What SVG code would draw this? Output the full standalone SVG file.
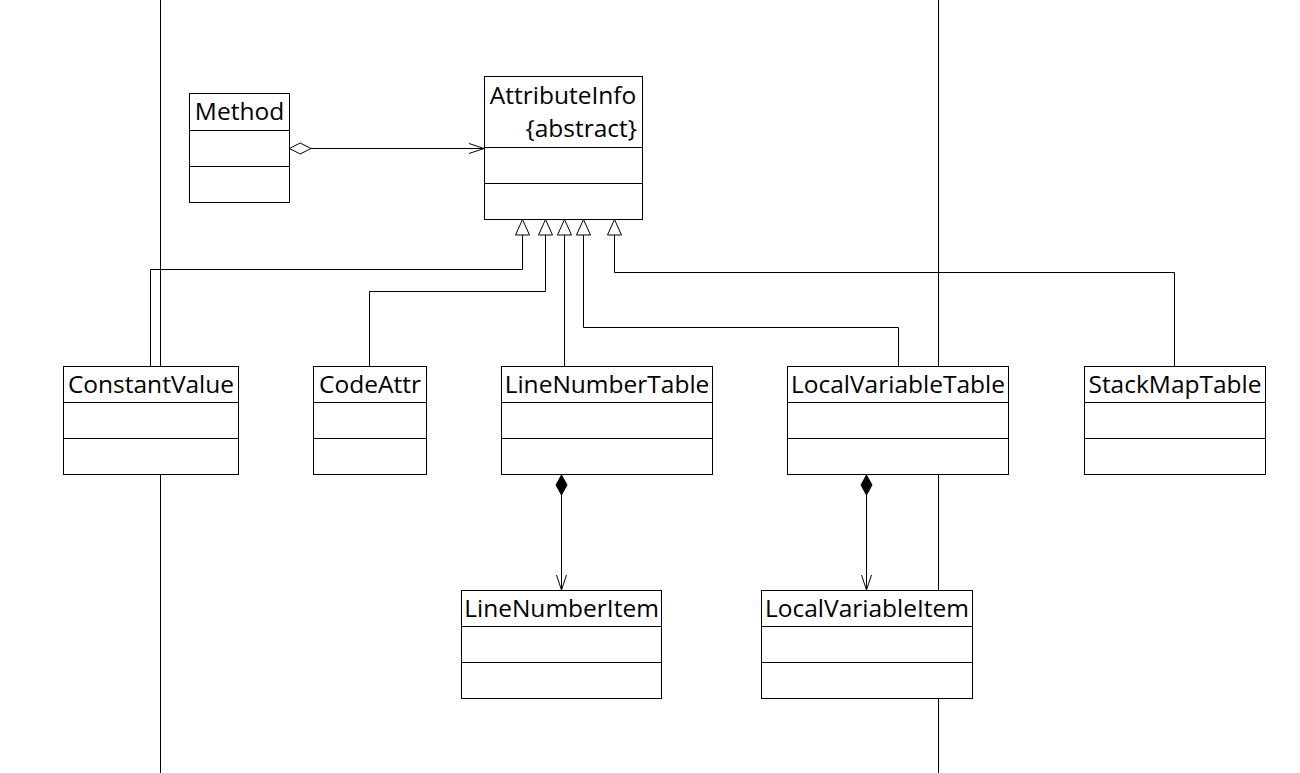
<svg xmlns="http://www.w3.org/2000/svg" width="1300" height="773" viewBox="0 0 1300 773">
<style>
.box{fill:#fff;stroke:#000;stroke-width:1}
.sep{stroke:#000;stroke-width:1}
.t{font-family:"Open Sans","Noto Sans","Liberation Sans",sans-serif;font-size:24.5px;fill:#000;text-anchor:middle}
.c{fill:none;stroke:#000;stroke-width:1}
.tri{fill:#fff;stroke:#000;stroke-width:1}
</style>
<rect x="0" y="0" width="1300" height="773" fill="#fff"/>
<g id="background-lines">
<line class="sep" x1="160.5" y1="0" x2="160.5" y2="773"/>
<line class="sep" x1="938.5" y1="0" x2="938.5" y2="773"/>
</g>
<g id="connectors">
<path class="c" d="M150.5 366 V269.5 H522.5 V235"/>
<path class="c" d="M369.5 366 V291.5 H545.5 V235"/>
<path class="c" d="M564.5 366 V235"/>
<path class="c" d="M898.5 366 V327.5 H583.5 V235"/>
<path class="c" d="M1174.5 366 V272.5 H614.5 V235"/>
<polygon class="tri" points="522.5,219.5 515.5,235 529.5,235"/>
<polygon class="tri" points="545.5,219.5 538.5,235 552.5,235"/>
<polygon class="tri" points="564.5,219.5 557.5,235 571.5,235"/>
<polygon class="tri" points="583.5,219.5 576.5,235 590.5,235"/>
<polygon class="tri" points="614.5,219.5 607.5,235 621.5,235"/>
<path class="c" d="M311 148.5 H484"/>
<polygon class="tri" points="289.5,148.5 300.2,143 311,148.5 300.2,154"/>
<path class="c" d="M469 143.5 L484 148.5 L469 153.5"/>
<path class="c" d="M561.5 495 V590"/>
<polygon points="561.5,475 567,485 561.5,495 556,485" fill="#000" stroke="#000" stroke-width="1"/>
<path class="c" d="M556.5 575 L561.5 590 L566.5 575"/>
<path class="c" d="M866.5 495 V590"/>
<polygon points="866.5,475 872,485 866.5,495 861,485" fill="#000" stroke="#000" stroke-width="1"/>
<path class="c" d="M861.5 575 L866.5 590 L871.5 575"/>
</g>
<g id="Method">
<rect class="box" x="189.5" y="93.5" width="100" height="109"/>
<line class="sep" x1="189.5" y1="130.5" x2="289.5" y2="130.5"/>
<line class="sep" x1="189.5" y1="166.5" x2="289.5" y2="166.5"/>
<text class="t" x="239.5" y="120">Method</text>
</g>
<g id="AttributeInfo">
<rect class="box" x="484.5" y="76.5" width="158" height="143"/>
<line class="sep" x1="484.5" y1="147.5" x2="642.5" y2="147.5"/>
<line class="sep" x1="484.5" y1="183.5" x2="642.5" y2="183.5"/>
<text class="t" x="563" y="104">AttributeInfo</text>
<text class="t" x="637" y="136.5" style="text-anchor:end">{abstract}</text>
</g>
<g id="ConstantValue">
<rect class="box" x="63.5" y="366.5" width="175" height="108"/>
<line class="sep" x1="63.5" y1="402.5" x2="238.5" y2="402.5"/>
<line class="sep" x1="63.5" y1="438.5" x2="238.5" y2="438.5"/>
<text class="t" x="151" y="392.5">ConstantValue</text>
</g>
<g id="CodeAttr">
<rect class="box" x="313.5" y="366.5" width="113" height="108"/>
<line class="sep" x1="313.5" y1="402.5" x2="426.5" y2="402.5"/>
<line class="sep" x1="313.5" y1="438.5" x2="426.5" y2="438.5"/>
<text class="t" x="370" y="392.5">CodeAttr</text>
</g>
<g id="LineNumberTable">
<rect class="box" x="501.5" y="366.5" width="211" height="108"/>
<line class="sep" x1="501.5" y1="402.5" x2="712.5" y2="402.5"/>
<line class="sep" x1="501.5" y1="438.5" x2="712.5" y2="438.5"/>
<text class="t" x="607" y="392.5">LineNumberTable</text>
</g>
<g id="LocalVariableTable">
<rect class="box" x="787.5" y="366.5" width="221" height="108"/>
<line class="sep" x1="787.5" y1="402.5" x2="1008.5" y2="402.5"/>
<line class="sep" x1="787.5" y1="438.5" x2="1008.5" y2="438.5"/>
<text class="t" x="898" y="392.5">LocalVariableTable</text>
</g>
<g id="StackMapTable">
<rect class="box" x="1084.5" y="366.5" width="181" height="108"/>
<line class="sep" x1="1084.5" y1="402.5" x2="1265.5" y2="402.5"/>
<line class="sep" x1="1084.5" y1="438.5" x2="1265.5" y2="438.5"/>
<text class="t" x="1175" y="392.5">StackMapTable</text>
</g>
<g id="LineNumberItem">
<rect class="box" x="461.5" y="590.5" width="200" height="108"/>
<line class="sep" x1="461.5" y1="626.5" x2="661.5" y2="626.5"/>
<line class="sep" x1="461.5" y1="662.5" x2="661.5" y2="662.5"/>
<text class="t" x="561.5" y="617">LineNumberItem</text>
</g>
<g id="LocalVariableItem">
<rect class="box" x="761.5" y="590.5" width="211" height="108"/>
<line class="sep" x1="761.5" y1="626.5" x2="972.5" y2="626.5"/>
<line class="sep" x1="761.5" y1="662.5" x2="972.5" y2="662.5"/>
<text class="t" x="867" y="617">LocalVariableItem</text>
</g>
</svg>
